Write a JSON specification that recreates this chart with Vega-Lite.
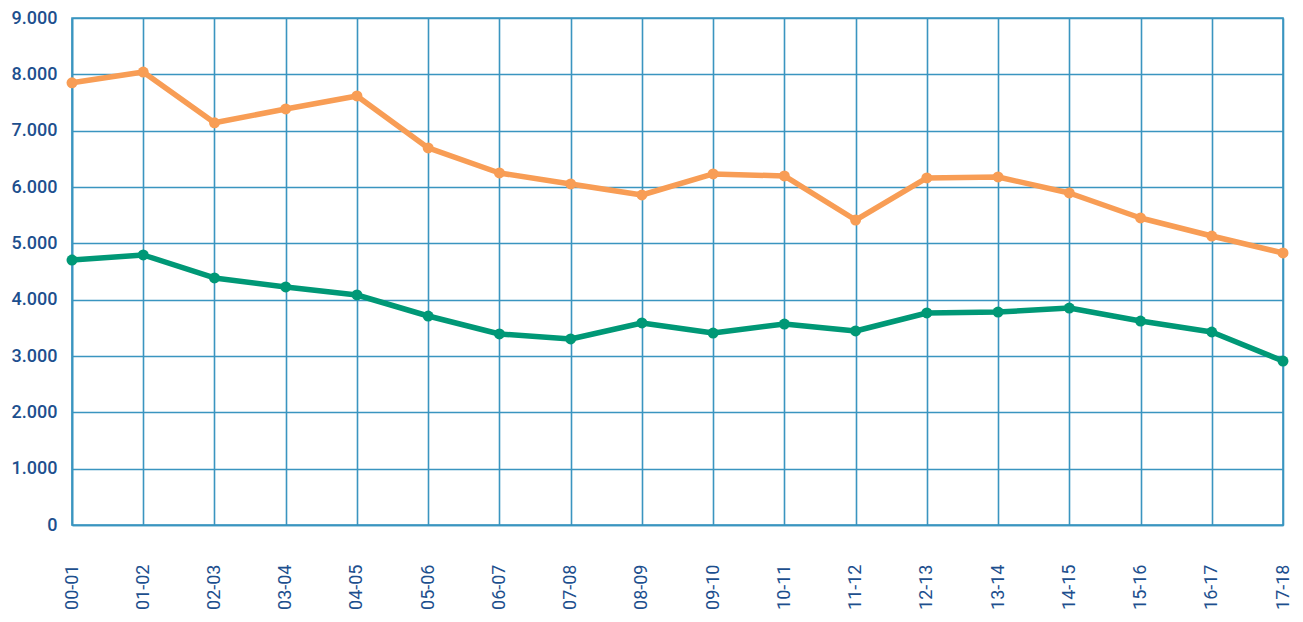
{
  "$schema": "https://vega.github.io/schema/vega-lite/v6.json",
  "width": 1211,
  "height": 507,
  "autosize": {"type": "none"},
  "padding": {"left": 72, "top": 18, "right": 20, "bottom": 97},
  "background": "white",
  "data": {
    "values": [
      {"periodo": "00-01", "serie": "A", "valor": 7850},
      {"periodo": "01-02", "serie": "A", "valor": 8040},
      {"periodo": "02-03", "serie": "A", "valor": 7140},
      {"periodo": "03-04", "serie": "A", "valor": 7385},
      {"periodo": "04-05", "serie": "A", "valor": 7616},
      {"periodo": "05-06", "serie": "A", "valor": 6693},
      {"periodo": "06-07", "serie": "A", "valor": 6249},
      {"periodo": "07-08", "serie": "A", "valor": 6054},
      {"periodo": "08-09", "serie": "A", "valor": 5858},
      {"periodo": "09-10", "serie": "A", "valor": 6231},
      {"periodo": "10-11", "serie": "A", "valor": 6196},
      {"periodo": "11-12", "serie": "A", "valor": 5414},
      {"periodo": "12-13", "serie": "A", "valor": 6160},
      {"periodo": "13-14", "serie": "A", "valor": 6178},
      {"periodo": "14-15", "serie": "A", "valor": 5894},
      {"periodo": "15-16", "serie": "A", "valor": 5450},
      {"periodo": "16-17", "serie": "A", "valor": 5130},
      {"periodo": "17-18", "serie": "A", "valor": 4829},
      {"periodo": "00-01", "serie": "B", "valor": 4704},
      {"periodo": "01-02", "serie": "B", "valor": 4793},
      {"periodo": "02-03", "serie": "B", "valor": 4385},
      {"periodo": "03-04", "serie": "B", "valor": 4225},
      {"periodo": "04-05", "serie": "B", "valor": 4083},
      {"periodo": "05-06", "serie": "B", "valor": 3710},
      {"periodo": "06-07", "serie": "B", "valor": 3391},
      {"periodo": "07-08", "serie": "B", "valor": 3302},
      {"periodo": "08-09", "serie": "B", "valor": 3586},
      {"periodo": "09-10", "serie": "B", "valor": 3408},
      {"periodo": "10-11", "serie": "B", "valor": 3568},
      {"periodo": "11-12", "serie": "B", "valor": 3444},
      {"periodo": "12-13", "serie": "B", "valor": 3764},
      {"periodo": "13-14", "serie": "B", "valor": 3781},
      {"periodo": "14-15", "serie": "B", "valor": 3852},
      {"periodo": "15-16", "serie": "B", "valor": 3621},
      {"periodo": "16-17", "serie": "B", "valor": 3426},
      {"periodo": "17-18", "serie": "B", "valor": 2911}
    ]
  },
  "encoding": {
    "x": {
      "field": "periodo", "type": "ordinal", "sort": null,
      "scale": {"type": "point", "padding": 0},
      "axis": {
        "title": null, "labelAngle": -90, "labelPadding": 39, "ticks": false,
        "grid": true, "gridColor": "#3a95c0", "gridWidth": 1.6, "gridOpacity": 1,
        "domainColor": "#3a95c0", "domainWidth": 1.6,
        "labelFont": "Roboto", "labelFontSize": 18, "labelColor": "#1d4f8e"
      }
    },
    "y": {
      "field": "valor", "type": "quantitative",
      "scale": {"domain": [0, 9000], "nice": false},
      "axis": {
        "title": null, "values": [0,1000,2000,3000,4000,5000,6000,7000,8000,9000],
        "labelExpr": "replace(format(datum.value, ','), ',', '.')",
        "ticks": false, "labelPadding": 15,
        "grid": true, "gridColor": "#3a95c0", "gridWidth": 1.6, "gridOpacity": 1,
        "domainColor": "#3a95c0", "domainWidth": 1.6,
        "labelFont": "Roboto", "labelFontSize": 18, "labelFontWeight": 500, "labelColor": "#1d4f8e"
      }
    },
    "color": {
      "field": "serie", "type": "nominal",
      "scale": {"domain": ["A", "B"], "range": ["#f89d55", "#009876"]},
      "legend": null
    }
  },
  "layer": [
    {"mark": {"type": "line", "strokeWidth": 5.5, "strokeJoin": "round"}},
    {"mark": {"type": "circle", "size": 120, "opacity": 1}}
  ],
  "config": {"view": {"stroke": "#3a95c0", "strokeWidth": 1.6}}
}
